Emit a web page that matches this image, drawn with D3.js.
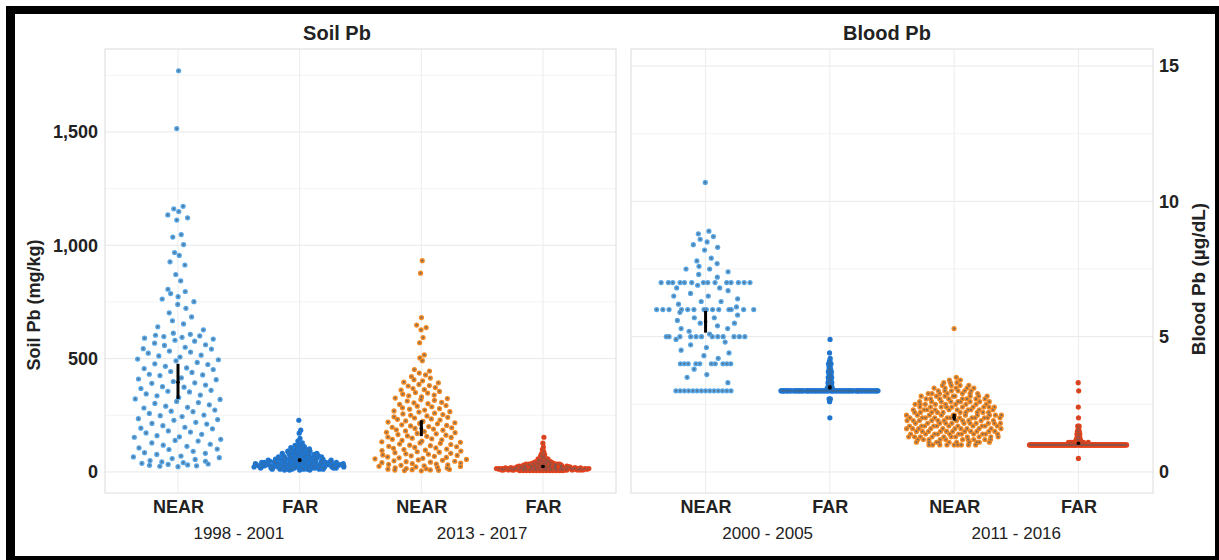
<!DOCTYPE html>
<html lang="en">
<head>
<meta charset="UTF-8">
<title>Soil Pb and Blood Pb</title>
<script src="https://d3js.org/d3.v7.min.js"></script>
<style>
  body { margin: 0; background: #fff; }
  text { font-family: "Liberation Sans", Arial, Helvetica, sans-serif; fill: #222; }
</style>
</head>
<body>
<div id="chart"></div>
<script>
const width = 1219, height = 560;

// categories and labels
const groups = ["NEAR", "FAR", "NEAR", "FAR"];
const soilPeriods = ["1998 - 2001", "2013 - 2017"];
const bloodPeriods = ["2000 - 2005", "2011 - 2016"];
const soilTicks = [0, 500, 1000, 1500];
const bloodTicks = [0, 5, 10, 15];
const colors = ["#57a6e6", "#1c77d6", "#f28a26", "#e5421b"];

// Soil Pb (mg/kg), one value per sample
const soilNear1998 = [1770, 1515, 1172, 1161, 1149, 1134, 1121, 1111, 1047, 1036, 1003, 968, 955, 927, 913,
  871, 843, 806, 796, 787, 773, 763, 751, 739, 722, 702, 684, 667, 653, 640, 627,
  612, 607, 603, 600, 597, 594, 590, 586, 581, 577,
  568, 561, 558, 550, 544, 542, 533, 529, 524, 515, 512, 507, 498, 495, 490, 483, 477, 474, 466, 459,
  456, 452, 443, 439, 431, 428, 425, 415, 410, 407, 399, 393, 391, 383, 376, 374, 368, 360, 356, 353,
  344, 339, 336, 328, 322, 320, 311, 306, 302, 296, 290, 285, 282, 273, 268, 266, 258, 251, 248, 244,
  235, 231, 228, 219, 214, 211, 204, 197, 193, 190, 181, 176, 172, 166, 160, 155, 153, 144, 139, 136,
  128, 122, 118, 113, 106, 101, 99, 91, 85, 82, 77, 70, 66, 63, 59,
  55, 50, 47, 44, 41, 38, 35, 33, 31, 29, 27, 25, 23];
const soilNear2013 = [932, 877, 681, 648, 637, 627, 593, 570, 516, 503, 491, 452, 445, 436, 428, 421, 414, 407,
  402, 396, 393, 386, 381, 379, 372, 368, 363, 361, 355, 350, 348, 343, 339, 336, 331, 326, 324, 319,
  316, 313, 307, 305, 301, 298, 293, 290, 287, 283, 279, 277, 273, 269, 266, 264, 259, 256, 253, 250,
  247, 243, 241, 238, 234, 232, 229, 225, 223, 220, 217, 214, 212, 208, 205, 203, 200, 197, 195, 192,
  189, 186, 184, 181, 178, 175, 173, 170, 168, 165, 162, 159, 157, 154, 152, 149, 146, 144, 141, 139,
  136, 133, 131, 128, 126, 123, 121, 118, 116, 113, 111, 108, 106, 104, 101, 99, 96, 94, 92, 89, 87,
  85, 82, 80, 78, 75, 73, 71, 69, 66, 64, 62, 60, 58, 55, 53, 51, 49, 47, 45, 43, 41, 39, 37, 35, 33,
  31, 29, 27, 25, 24, 22, 20, 18, 17, 15, 14, 12, 11, 10, 9, 8, 7, 6, 5];
// [value, number of samples]
const soilFar1998 = [[228,1],[184,1],[171,1],[148,1],[136,1],[128,1],[122,1],[117,2],[112,2],[107,2],
  [102,3],[97,3],[92,3],[87,4],[82,4],[77,5],[72,5],[67,6],[62,6],[57,7],[52,8],[47,9],[42,10],
  [37,11],[32,12],[27,12],[22,12],[17,11],[12,8],[8,4]];
const soilFar2013 = [[153,1],[127,1],[110,1],[99,1],[91,1],[84,2],[77,2],[70,3],[64,3],[58,4],[53,5],
  [48,6],[43,7],[38,9],[34,11],[30,13],[26,15],[22,18],[18,21],[15,23],[12,24],[9,22],[6,14]];
const soilMean = [396, 52, 192, 24];
const soilLow = [322, 45, 158, 20];
const soilHigh = [477, 59, 228, 28];

// Blood Pb (µg/dL), [value, number of children]
const bloodNear2000 = [[10.7,1],[8.9,1],[8.8,1],[8.7,1],[8.6,1],[8.5,1],[8.4,1],[8.3,1],[8.2,1],[7.9,1],
  [7.8,1],[7.7,1],[7.6,1],[7.5,2],[7.4,1],[7.3,1],[7.2,1],[7.0,14],[6.9,1],[6.8,2],[6.7,1],[6.6,1],
  [6.5,2],[6.4,1],[6.3,2],[6.2,1],[6.1,1],[6.0,14],[5.9,1],[5.8,1],[5.7,2],[5.6,1],[5.5,2],[5.4,1],
  [5.3,2],[5.2,1],[5.1,1],[5.0,12],[4.9,1],[4.8,1],[4.7,1],[4.6,1],[4.5,1],[4.4,1],[4.3,1],[4.2,1],
  [4.0,10],[3.8,1],[3.6,1],[3.5,1],[3.3,1],[3.0,14]];
const bloodFar2000 = [[4.9,1],[4.4,1],[4.2,1],[4.1,2],[4.0,3],[3.9,2],[3.8,3],[3.7,3],[3.6,3],[3.5,4],
  [3.4,4],[3.3,4],[3.2,5],[3.1,6],[3.0,95],[2.7,2],[2.6,1],[2.0,1]];
const bloodNear2011 = [[5.3,1],[3.5,1],[3.4,2],[3.3,3],[3.2,4],[3.1,5],[3.0,6],[2.9,7],[2.8,8],[2.7,8],
  [2.6,9],[2.5,9],[2.4,10],[2.3,10],[2.2,10],[2.1,11],[2.0,12],[1.9,11],[1.8,11],[1.7,11],[1.6,11],
  [1.5,11],[1.4,11],[1.3,11],[1.2,10],[1.1,10],[1.0,9]];
const bloodFar2011 = [[3.3,1],[3.0,1],[2.4,1],[2.0,1],[1.7,2],[1.6,2],[1.5,3],[1.4,3],[1.3,4],[1.2,5],
  [1.1,7],[1.0,125],[0.5,1]];
const bloodMean = [5.55, 3.12, 2.02, 1.06];
const bloodLow = [5.15, 3.05, 1.9, 1.02];
const bloodHigh = [5.95, 3.2, 2.15, 1.1];

function expand(pairs) {
  const out = [];
  pairs.forEach(([v, n]) => { for (let i = 0; i < n; i++) out.push(v); });
  return out;
}

// van der Corput sequence, base 2
function vdc(n) {
  let v = 0, d = 0.5;
  while (n > 0) { if (n & 1) v += d; n >>= 1; d /= 2; }
  return v;
}

// quasirandom offsets (like ggbeeswarm), width scaled by density
function quasi(values, halfW) {
  const s = values.slice().sort((a, b) => a - b);
  const n = s.length;
  const sd = d3.deviation(s);
  const iqr = d3.quantile(s, 0.75) - d3.quantile(s, 0.25);
  let lo = Math.min(sd, iqr / 1.34);
  if (!(lo > 0)) lo = sd || Math.abs(s[0]) || 1;
  const bw = 0.9 * lo * Math.pow(n, -0.2) * 0.5;
  const dens = s.map(v => d3.sum(s, u => Math.exp(-0.5 * ((v - u) / bw) ** 2)));
  const maxD = d3.max(dens);
  return s.map((v, i) => ({ v, dx: (vdc(i + 1) - 0.5) * 2 * halfW * dens[i] / maxD }));
}

const svg = d3.select("#chart").append("svg")
  .attr("width", width)
  .attr("height", height);

// black frame
svg.append("rect").attr("x", 6).attr("y", 6).attr("width", 1213).attr("height", 554).attr("fill", "#000");
svg.append("rect").attr("x", 15).attr("y", 14).attr("width", 1200).attr("height", 542).attr("fill", "#fff");

const plotTop = 49, plotBottom = 493;

const panels = [
  {
    title: "Soil Pb", titleX: 337, x0: 105, x1: 616,
    y: d3.scaleLinear().domain([-93, 1866]).range([plotBottom, plotTop]),
    ticks: soilTicks, fmt: d3.format(","), side: "left",
    data: [soilNear1998, expand(soilFar1998), soilNear2013, expand(soilFar2013)],
    mean: soilMean, low: soilLow, high: soilHigh, periods: soilPeriods
  },
  {
    title: "Blood Pb", titleX: 887, x0: 631, x1: 1153,
    y: d3.scaleLinear().domain([-0.776, 15.63]).range([plotBottom, plotTop]),
    ticks: bloodTicks, fmt: d3.format("d"), side: "right",
    data: [expand(bloodNear2000), expand(bloodFar2000), expand(bloodNear2011), expand(bloodFar2011)],
    mean: bloodMean, low: bloodLow, high: bloodHigh, periods: bloodPeriods
  }
];

panels.forEach(p => {
  const x = d3.scalePoint().domain([0, 1, 2, 3]).range([p.x0, p.x1]).padding(0.6);
  const g = svg.append("g");

  // minor + major grid
  const minor = p.ticks.slice(0, -1).map((t, i) => (t + p.ticks[i + 1]) / 2)
    .concat([p.ticks[p.ticks.length - 1] + (p.ticks[1] - p.ticks[0]) / 2]);
  g.selectAll(".minor").data(minor.filter(v => p.y(v) > plotTop)).join("line")
    .attr("x1", p.x0).attr("x2", p.x1)
    .attr("y1", d => p.y(d)).attr("y2", d => p.y(d))
    .attr("stroke", "#f3f3f3").attr("stroke-width", 1);
  g.selectAll(".major").data(p.ticks).join("line")
    .attr("x1", p.x0).attr("x2", p.x1)
    .attr("y1", d => p.y(d)).attr("y2", d => p.y(d))
    .attr("stroke", "#e8e8e8").attr("stroke-width", 1);
  g.selectAll(".vgrid").data(x.domain()).join("line")
    .attr("x1", d => x(d)).attr("x2", d => x(d))
    .attr("y1", plotTop).attr("y2", plotBottom)
    .attr("stroke", "#ececec").attr("stroke-width", 1);
  g.append("rect")
    .attr("x", p.x0).attr("y", plotTop)
    .attr("width", p.x1 - p.x0).attr("height", plotBottom - plotTop)
    .attr("fill", "none").attr("stroke", "#dcdcdc");

  // points
  const halfW = x.step() * 0.4;
  p.data.forEach((vals, gi) => {
    const pts = quasi(vals, halfW);
    const pg = g.append("g");
    pg.selectAll("circle.o").data(pts).join("circle")
      .attr("cx", d => x(gi) + d.dx).attr("cy", d => p.y(d.v))
      .attr("r", 2.6).attr("fill", colors[gi]);
    pg.selectAll("circle.i").data(pts).join("circle")
      .attr("cx", d => x(gi) + d.dx).attr("cy", d => p.y(d.v))
      .attr("r", 1.1).attr("fill", "#55606b").attr("opacity", gi % 2 === 0 ? 0.75 : 0.35);
  });

  // mean and interval
  g.selectAll(".err").data(x.domain()).join("line")
    .attr("x1", d => x(d)).attr("x2", d => x(d))
    .attr("y1", d => p.y(p.low[d])).attr("y2", d => p.y(p.high[d]))
    .attr("stroke", "#000").attr("stroke-width", 3);
  g.selectAll(".mean").data(x.domain()).join("circle")
    .attr("cx", d => x(d)).attr("cy", d => p.y(p.mean[d]))
    .attr("r", 1.8).attr("fill", "#000");

  // axes
  const yAxis = p.side === "left" ? d3.axisLeft(p.y) : d3.axisRight(p.y);
  yAxis.tickValues(p.ticks).tickFormat(p.fmt).tickSize(0).tickPadding(p.side === "left" ? 7 : 6);
  const ya = svg.append("g")
    .attr("transform", `translate(${p.side === "left" ? p.x0 : p.x1},0)`)
    .call(yAxis);
  ya.select(".domain").remove();
  ya.selectAll("text").attr("font-size", 18).attr("font-weight", "bold").attr("fill", "#222")
    .attr("font-family", '"Liberation Sans", Arial, sans-serif');

  const xa = svg.append("g")
    .attr("transform", `translate(0,${plotBottom})`)
    .call(d3.axisBottom(x).tickFormat(i => groups[i]).tickSize(0).tickPadding(7));
  xa.select(".domain").remove();
  xa.selectAll("text").attr("font-size", 18).attr("font-weight", "bold").attr("fill", "#222")
    .attr("font-family", '"Liberation Sans", Arial, sans-serif');

  // periods under each pair
  svg.selectAll(null).data(p.periods).join("text")
    .attr("x", (d, i) => (x(2 * i) + x(2 * i + 1)) / 2)
    .attr("y", 539)
    .attr("text-anchor", "middle")
    .attr("font-size", 17)
    .attr("fill", "#111")
    .text(d => d);

  svg.append("text")
    .attr("x", p.titleX).attr("y", 40)
    .attr("text-anchor", "middle")
    .attr("font-size", 20).attr("font-weight", "bold")
    .text(p.title);
});

svg.append("text")
  .attr("transform", "translate(40,305) rotate(-90)")
  .attr("text-anchor", "middle")
  .attr("font-size", 18).attr("font-weight", "bold")
  .text("Soil Pb (mg/kg)");

svg.append("text")
  .attr("transform", "translate(1205,279) rotate(-90)")
  .attr("text-anchor", "middle")
  .attr("font-size", 19).attr("font-weight", "bold")
  .text("Blood Pb (µg/dL)");
</script>
</body>
</html>
